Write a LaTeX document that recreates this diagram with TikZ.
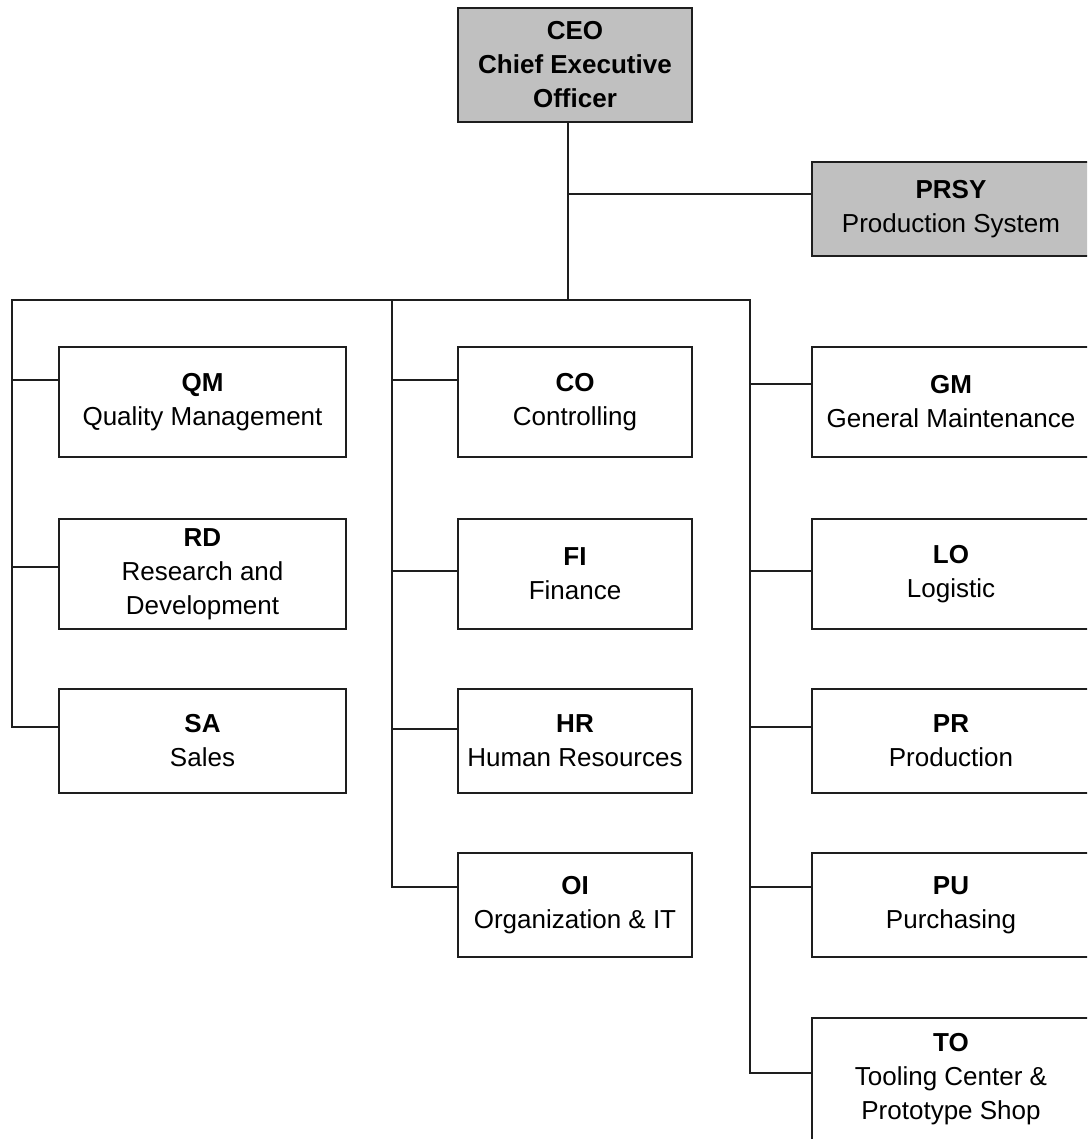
\documentclass[tikz,border=0pt]{standalone}
\usepackage{fontspec}
\setmainfont{Liberation Sans}
\definecolor{boxgray}{RGB}{192,192,192}
\definecolor{linegray}{RGB}{30,30,30}
\begin{document}
\begin{tikzpicture}[x=1pt,y=-1pt,
  unit/.style={draw=linegray, line width=1.8pt, fill=white, rectangle, inner sep=0pt,
    align=center, font=\fontsize{26}{34}\selectfont},
  head/.style={unit, fill=boxgray},
  lbox/.style={unit, minimum width=287pt, minimum height=#1},
  mbox/.style={unit, minimum width=234pt, minimum height=#1},
  rbox/.style={unit, minimum width=278pt, minimum height=#1},
  link/.style={draw=linegray, line width=1.8pt, line cap=rect}]
\useasboundingbox (0,0) rectangle (1087,1139);
\clip (0,0) rectangle (1087,1139);
\fill[white] (0,0) rectangle (1087,1139);

% connectors (drawn first so boxes sit on top)
\coordinate (j) at (568,194);
\coordinate (bus) at (568,300);
\coordinate (bL) at (12,300);
\coordinate (bM) at (392,300);
\coordinate (bR) at (750,300);

% top
\node[head, minimum width=234pt, minimum height=114pt] (ceo) at (575,65)
  {\textbf{CEO}\\\textbf{Chief Executive}\\\textbf{Officer}};
\node[head, minimum width=278pt, minimum height=94pt] (prsy) at (951,209)
  {\textbf{PRSY}\\Production System};

% left column
\node[lbox=110pt] (qm) at (202.5,402) {\textbf{QM}\\Quality Management};
\node[lbox=110pt] (rd) at (202.5,574) {\textbf{RD}\\Research and\\Development};
\node[lbox=104pt] (sa) at (202.5,741) {\textbf{SA}\\Sales};

% middle column
\node[mbox=110pt] (co) at (575,402) {\textbf{CO}\\Controlling};
\node[mbox=110pt] (fi) at (575,574) {\textbf{FI}\\Finance};
\node[mbox=104pt] (hr) at (575,741) {\textbf{HR}\\Human Resources};
\node[mbox=104pt] (oi) at (575,905) {\textbf{OI}\\Organization \& IT};

% right column
\node[rbox=110pt] (gm) at (951,402) {\textbf{GM}\\General Maintenance};
\node[rbox=110pt] (lo) at (951,574) {\textbf{LO}\\Logistic};
\node[rbox=104pt] (pr) at (951,741) {\textbf{PR}\\Production};
\node[rbox=104pt] (pu) at (951,905) {\textbf{PU}\\Purchasing};
\node[rbox=122pt] (to) at (951,1079) {\textbf{TO}\\Tooling Center \&\\Prototype Shop};

\draw[link] (ceo.south -| j) -- (bus);
\draw[link] (j) -- (j -| prsy.west);
\draw[link] (bL) -- (bR);

\draw[link] (bL) -- (12,727);
\draw[link] (12,380) -- (12,380 -| qm.west);
\draw[link] (12,567) -- (12,567 -| rd.west);
\draw[link] (12,727) -- (12,727 -| sa.west);

\draw[link] (bM) -- (392,887);
\draw[link] (392,380) -- (392,380 -| co.west);
\draw[link] (392,571) -- (392,571 -| fi.west);
\draw[link] (392,729) -- (392,729 -| hr.west);
\draw[link] (392,887) -- (392,887 -| oi.west);

\draw[link] (bR) -- (750,1073);
\draw[link] (750,384) -- (750,384 -| gm.west);
\draw[link] (750,571) -- (750,571 -| lo.west);
\draw[link] (750,727) -- (750,727 -| pr.west);
\draw[link] (750,887) -- (750,887 -| pu.west);
\draw[link] (750,1073) -- (750,1073 -| to.west);
\end{tikzpicture}
\end{document}
